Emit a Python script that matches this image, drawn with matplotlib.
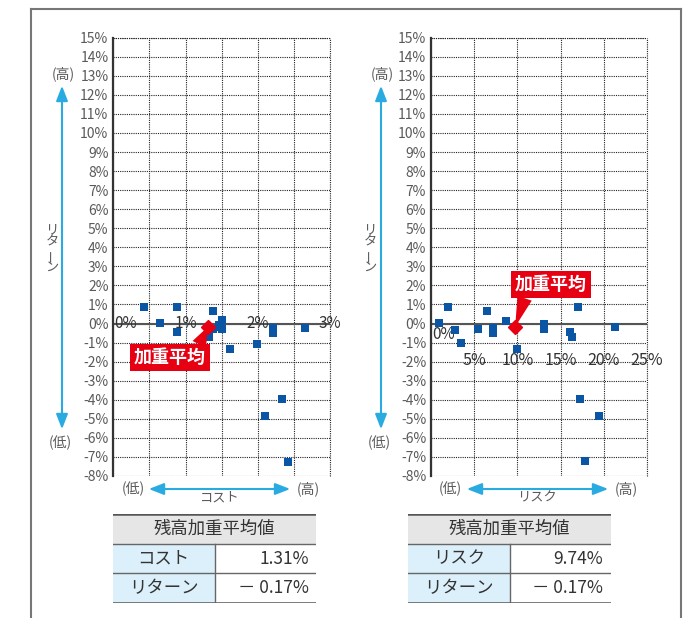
import numpy as np
import matplotlib
matplotlib.use("Agg")
import matplotlib.pyplot as plt
from matplotlib.lines import Line2D
from matplotlib.patches import FancyArrowPatch, Rectangle

plt.rcParams['font.family'] = ['Noto Sans CJK JP', 'DejaVu Sans']

# -------------------------------
# DATA
# -------------------------------
cost = [0.43, 0.65, 0.88, 0.88, 1.38, 1.32, 1.38, 1.46, 1.50, 1.50, 1.49,
        1.61, 1.99, 2.21, 2.21, 2.66, 2.10, 2.33, 2.42]
cost_ret = [0.87, 0.03, 0.85, -0.42, 0.64, -0.70, -0.31, -0.05, 0.16, -0.31, -0.20,
            -1.31, -1.05, -0.23, -0.52, -0.21, -4.86, -3.94, -7.25]

risk = [0.92, 2.0, 2.73, 3.5, 5.47, 6.47, 7.17, 7.17, 8.67, 9.9, 13.06,
        13.1, 16.1, 16.33, 17.06, 17.26, 17.87, 19.41, 21.34]
risk_ret = [0.03, 0.87, -0.35, -1.03, -0.31, 0.64, -0.21, -0.52, 0.14, -1.31, -0.03,
            -0.26, -0.42, -0.68, 0.85, -3.94, -7.21, -4.84, -0.19]

avg_cost = 1.31
avg_risk = 9.74
avg_ret = -0.17

y_ticks = list(range(-8, 16))
cost_ticks = [0, 1, 2, 3]
risk_ticks = [0, 5, 10, 15, 20, 25]

table_title = "残高加重平均値"
cost_rows = [("コスト", "1.31%"), ("リターン", "－ 0.17%")]
risk_rows = [("リスク", "9.74%"), ("リターン", "－ 0.17%")]

# -------------------------------
# STYLE
# -------------------------------
W, H = 699, 618
BLUE = "#0a56a5"
RED = "#e60012"
ARROW = "#29abe2"
GRAY = "#5a5a5a"


def fx(x):
    return x / W


def fy(y):
    return 1 - y / H


fig = plt.figure(figsize=(W / 100, H / 100), dpi=100)

# outer frame
for xs, ys in [((31, 31), (9, 618)), ((681, 681), (9, 618)), ((31, 681), (9, 9))]:
    fig.add_artist(Line2D([fx(v) for v in xs], [fy(v) for v in ys],
                          color="#777777", lw=1.5, transform=fig.transFigure))


def setup_axes(ax, xmax, xstep):
    ax.set_xlim(0, xmax)
    ax.set_ylim(-8, 15)
    ax.set_yticks(y_ticks)
    ax.set_yticklabels([f"{v}%" for v in y_ticks])
    ax.set_xticks(np.arange(0, xmax + xstep / 2, xstep))
    ax.set_xticklabels([])
    ax.tick_params(length=0, pad=3.5, labelsize=10, labelcolor=GRAY)
    ax.grid(True, color="#222222", lw=0.8, linestyle=(0, (1, 1)))
    ax.set_axisbelow(True)
    for s in ["top", "right", "bottom"]:
        ax.spines[s].set_visible(False)
    ax.spines["left"].set_color("#333333")
    ax.spines["left"].set_linewidth(1.6)
    ax.spines["left"].set_zorder(3)
    ax.axhline(0, color="#555555", lw=1.5, zorder=2)
    # top / right edge dotted
    ax.axhline(15, color="#222222", lw=0.8, linestyle=(0, (1, 1)), clip_on=False)
    ax.axvline(xmax, color="#222222", lw=0.8, linestyle=(0, (1, 1)), clip_on=False)


def side_labels(ax_y_arrow_x, text_x, name_x, name_y, xl, xr, low_x, high_x, xname):
    # vertical arrow
    fig.add_artist(FancyArrowPatch((fx(ax_y_arrow_x), fy(432)), (fx(ax_y_arrow_x), fy(83)),
                                   arrowstyle="<|-|>,head_length=0.9,head_width=0.35",
                                   mutation_scale=10, color=ARROW, lw=1.5,
                                   transform=fig.transFigure))
    fig.text(fx(ax_y_arrow_x + 1), fy(74), "(高)", ha="center", va="center", fontsize=10, color=GRAY)
    fig.text(fx(ax_y_arrow_x - 2), fy(443), "(低)", ha="center", va="center", fontsize=10, color=GRAY)
    for i, ch in enumerate("リターン"):
        fig.text(fx(text_x), fy(230 + i * 12.5), ch, ha="center", va="center",
                 fontsize=9.5, color=GRAY, rotation=(90 if ch == "ー" else 0))
    # horizontal arrow
    fig.add_artist(FancyArrowPatch((fx(xl), fy(489)), (fx(xr), fy(489)),
                                   arrowstyle="<|-|>,head_length=0.9,head_width=0.35",
                                   mutation_scale=10, color=ARROW, lw=1.5,
                                   transform=fig.transFigure))
    fig.text(fx(low_x), fy(489), "(低)", ha="center", va="center", fontsize=10, color=GRAY)
    fig.text(fx(high_x), fy(489), "(高)", ha="center", va="center", fontsize=10, color=GRAY)
    fig.text(fx(name_x), fy(name_y), xname, ha="center", va="center", fontsize=9.5, color=GRAY)


def draw_table(left, title, rows, val_x):
    tax = fig.add_axes([fx(left), fy(603), fx(203), 89 / H])
    tax.set_xlim(0, 1)
    tax.set_ylim(0, 3)
    tax.axis("off")
    tax.add_patch(Rectangle((0, 2), 1, 1, fc="#e6e6e6", ec="none"))
    tax.add_patch(Rectangle((0, 0), 0.5, 2, fc="#dcf0fb", ec="none"))
    tax.plot([0, 1], [3, 3], color="#555555", lw=1.8)
    tax.plot([0, 1], [0, 0], color="#555555", lw=1.8)
    tax.plot([0, 1], [2, 2], color="#666666", lw=1.0)
    tax.plot([0, 1], [1, 1], color="#666666", lw=1.0)
    tax.plot([0.5, 0.5], [0, 2], color="#666666", lw=1.0)
    tax.text(0.5, 2.5, title, ha="center", va="center", fontsize=12.5, color="#333333")
    for i, (lab, val) in enumerate(rows):
        yc = 1.5 - i
        tax.text(0.25, yc, lab, ha="center", va="center", fontsize=12.5, color="#333333")
        tax.text(val_x, yc, val, ha="right", va="center", fontsize=12.5, color="#333333")


def callout(ax, x, y, dx, dy, relx, rely):
    ax.plot([x], [y], marker="D", ms=7, color=RED, zorder=6, clip_on=False)
    ax.annotate("加重平均", xy=(x, y), xytext=(dx, dy), textcoords="offset pixels",
                ha="center", va="center", fontsize=13, fontweight="bold", color="white",
                bbox=dict(boxstyle="square,pad=0.22", fc=RED, ec="none"),
                arrowprops=dict(arrowstyle="wedge,tail_width=0.9", fc=RED, ec="none",
                                relpos=(relx, rely), shrinkA=0, shrinkB=0,
                                mutation_scale=12),
                zorder=7)


# -------------------------------
# LEFT: COST vs RETURN
# -------------------------------
ax1 = fig.add_axes([fx(113.3), fy(476), fx(330 - 113.3), (476 - 37.7) / H])
setup_axes(ax1, 3, 0.5)
ax1.scatter(cost, cost_ret, marker="s", s=28, color=BLUE, zorder=5, clip_on=False, linewidths=0)
for t in cost_ticks:
    ax1.text(t + (0.02 if t == 0 else 0), 0, f"{t}%", ha="left" if t == 0 else "center",
             va="center", fontsize=11, color="#333333", zorder=4)
callout(ax1, avg_cost, avg_ret, -38, -31, 0.88, 1.0)
side_labels(62, 52, 220, 498, 146, 293, 133, 308, "コスト")

# -------------------------------
# RIGHT: RISK vs RETURN
# -------------------------------
ax2 = fig.add_axes([fx(431), fy(476), fx(647 - 431), (476 - 37.7) / H])
setup_axes(ax2, 25, 5)
ax2.scatter(risk, risk_ret, marker="s", s=28, color=BLUE, zorder=5, clip_on=False, linewidths=0)
for t in risk_ticks:
    if t == 0:
        ax2.text(0.1, -0.56, "0%", ha="left", va="center", fontsize=11, color="#333333", zorder=4)
    else:
        ax2.text(t, -1.92, f"{t}%", ha="center", va="center", fontsize=11.5, color="#333333", zorder=4)
callout(ax2, avg_risk, avg_ret, 36, 42, 0.15, 0.0)
side_labels(381, 370, 537, 498, 464, 611, 450, 626, "リスク")

# -------------------------------
# TABLES
# -------------------------------
draw_table(113, table_title, cost_rows, 0.965)
draw_table(408, table_title, risk_rows, 0.96)

fig.savefig("out.png", dpi=100)
